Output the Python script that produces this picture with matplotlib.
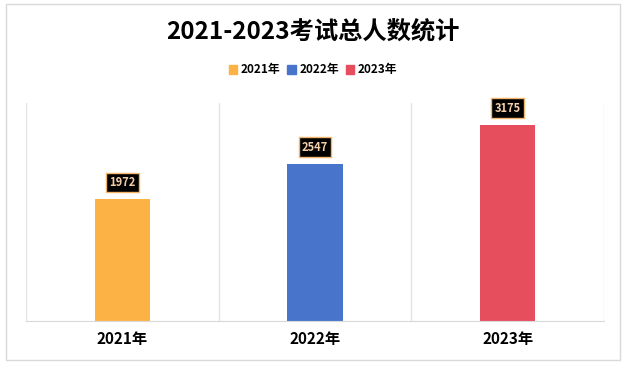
import matplotlib
matplotlib.use('Agg')
import matplotlib.pyplot as plt
from matplotlib.patches import Rectangle, Patch

plt.rcParams['font.family'] = ['Noto Sans CJK SC', 'DejaVu Sans']

years = ['2021年', '2022年', '2023年']
totals = [1972, 2547, 3175]
colors = ['#fdb246', '#4874cb', '#e64e5e']

W, H = 626, 366
fig = plt.figure(figsize=(W / 100, H / 100), dpi=100)

# outer frame
fig.patches.append(Rectangle((6 / W, 1 - 360 / H), 614 / W, 356 / H,
                             transform=fig.transFigure, fill=False,
                             edgecolor='#d9d9d9', linewidth=1))

ax = fig.add_axes([26 / W, 1 - 321 / H, 578 / W, 218 / H])
x = range(len(years))
bars = ax.bar(x, totals, width=0.286, color=colors, zorder=2)
ax.set_xlim(-0.5, 2.5)
ax.set_ylim(0, 3530)
ax.set_yticks([])
ax.set_xticks(list(x))
ax.set_xticklabels(years, fontsize=11, fontweight='bold')
ax.tick_params(axis='x', length=0, pad=7)
for s in ['top', 'right', 'left']:
    ax.spines[s].set_visible(False)
ax.spines['bottom'].set_color('#d9d9d9')
for v in [-0.5, 0.5, 1.5, 2.5]:
    ax.axvline(v, color='#e3e3e3', linewidth=1, zorder=1)

for b, v in zip(bars, totals):
    ax.annotate(str(v), (b.get_x() + b.get_width() / 2, v),
                xytext=(0, 12), textcoords='offset points',
                ha='center', va='center', fontsize=8, fontweight='bold',
                color='#f6cfa8',
                bbox=dict(boxstyle='square,pad=0.3', facecolor='black',
                          edgecolor='#f4b46a', linewidth=1))

fig.text(0.5, 1 - 31 / H, '2021-2023考试总人数统计', ha='center', va='center',
         fontsize=17.5, fontweight='bold')

handles = [Patch(color=c) for c in colors]
fig.legend(handles, years, loc='center', bbox_to_anchor=(0.5, 1 - 70 / H),
           ncol=3, frameon=False, handlelength=0.7, handleheight=0.7,
           handletextpad=0.3, columnspacing=0.6,
           prop={'size': 8.5, 'weight': 'bold'})

fig.savefig('out.png', dpi=100)
